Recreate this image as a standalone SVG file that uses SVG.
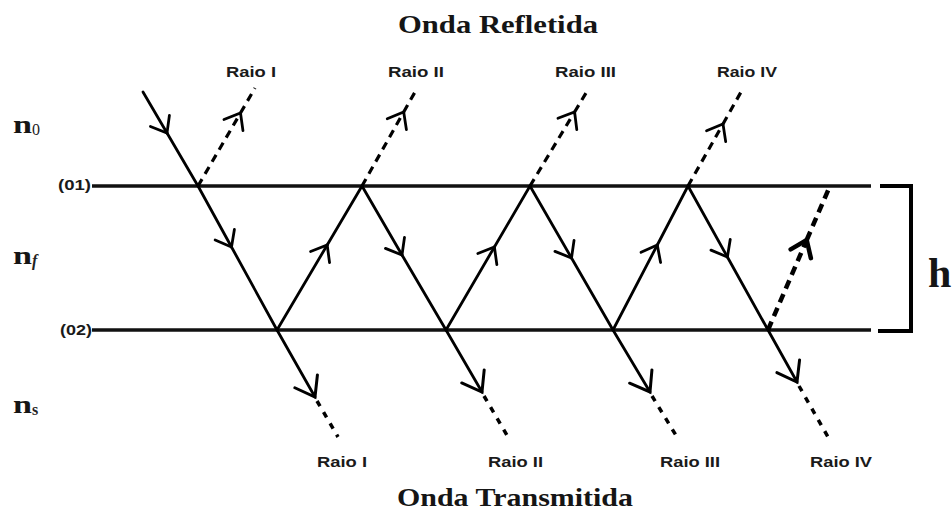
<svg xmlns="http://www.w3.org/2000/svg" width="952" height="514" viewBox="0 0 952 514">
  <style>
    .ray { fill: none; stroke: #000; stroke-width: 2.8; stroke-linecap: round; }
    .iface { fill: none; stroke: #111; stroke-width: 3.5; }
    .dash { fill: none; stroke: #000; stroke-width: 3.2; stroke-dasharray: 8 6; }
    .dot { fill: none; stroke: #000; stroke-width: 3.5; stroke-dasharray: 6 7; }
    .heavy { fill: none; stroke: #000; stroke-width: 4.5; stroke-dasharray: 9 6; }
    .title { font-family: "Liberation Serif", "Times New Roman", serif; font-weight: bold; font-size: 26px; fill: #151515; }
    .raio { font-family: "Liberation Sans", Arial, sans-serif; font-weight: bold; font-size: 15px; fill: #1a1a1a; }
    .iname { font-family: "Liberation Sans", Arial, sans-serif; font-weight: bold; font-size: 14px; fill: #1a1a1a; }
    .n { font-family: "Liberation Serif", "Times New Roman", serif; font-weight: bold; font-size: 26px; fill: #151515; }
    .sub { font-family: "Liberation Serif", "Times New Roman", serif; font-size: 16px; fill: #222; }
  </style>
  <defs>
    <marker id="ah" markerUnits="userSpaceOnUse" viewBox="-18 -16 20 32" markerWidth="20" markerHeight="32" refX="0" refY="0" orient="auto" overflow="visible">
      <path d="M-14,-11 L0,0 L-14,11" fill="none" stroke="#000" stroke-width="2.8" stroke-dasharray="none" stroke-linecap="round"/>
    </marker>
    <marker id="ahL" markerUnits="userSpaceOnUse" viewBox="-22 -18 24 36" markerWidth="24" markerHeight="36" refX="0" refY="0" orient="auto" overflow="visible">
      <path d="M-18,-13 L0,0 L-18,13" fill="none" stroke="#000" stroke-width="3" stroke-dasharray="none" stroke-linecap="round"/>
    </marker>
    <marker id="ahH" markerUnits="userSpaceOnUse" viewBox="-22 -18 24 36" markerWidth="24" markerHeight="36" refX="0" refY="0" orient="auto" overflow="visible">
      <path d="M-15,-11 L0,0 L-15,11" fill="none" stroke="#000" stroke-width="4.5" stroke-dasharray="none" stroke-linecap="round"/>
    </marker>
  </defs>
  <rect width="952" height="514" fill="#fff"/>

  <g id="titles">
    <text class="title" x="398" y="33" textLength="200" lengthAdjust="spacingAndGlyphs">Onda Refletida</text>
    <text class="title" x="397" y="506" textLength="236" lengthAdjust="spacingAndGlyphs">Onda Transmitida</text>
  </g>

  <g id="media-labels">
    <text class="n" x="13" y="133" textLength="19" lengthAdjust="spacingAndGlyphs">n</text><text class="sub" x="32" y="135">0</text>
    <text class="n" x="13" y="264" textLength="19" lengthAdjust="spacingAndGlyphs">n</text><text class="sub" x="32" y="266" font-style="italic" font-weight="bold">f</text>
    <text class="n" x="13" y="413" textLength="19" lengthAdjust="spacingAndGlyphs">n</text><text class="sub" x="32" y="415" font-weight="bold">s</text>
  </g>

  <g id="interface-01">
    <text class="iname" x="58" y="190" textLength="33" lengthAdjust="spacingAndGlyphs">(01)</text>
    <line class="iface" x1="92" y1="186" x2="871" y2="186"/>
  </g>
  <g id="interface-02">
    <text class="iname" x="60" y="335" textLength="32" lengthAdjust="spacingAndGlyphs">(02)</text>
    <line class="iface" x1="92" y1="330" x2="871" y2="330"/>
  </g>

  <g id="thickness">
    <path d="M880,186 H911 V331 H878" fill="none" stroke="#000" stroke-width="4"/>
    <text x="928" y="287" font-family="'Liberation Serif', 'Times New Roman', serif" font-weight="bold" font-size="42" fill="#151515">h</text>
  </g>

  <g id="reflected-labels">
    <text class="raio" x="226" y="77" textLength="50" lengthAdjust="spacingAndGlyphs">Raio I</text>
    <text class="raio" x="388" y="77" textLength="56" lengthAdjust="spacingAndGlyphs">Raio II</text>
    <text class="raio" x="555" y="77" textLength="61" lengthAdjust="spacingAndGlyphs">Raio III</text>
    <text class="raio" x="717" y="77" textLength="60" lengthAdjust="spacingAndGlyphs">Raio IV</text>
  </g>
  <g id="transmitted-labels">
    <text class="raio" x="317" y="467" textLength="50" lengthAdjust="spacingAndGlyphs">Raio I</text>
    <text class="raio" x="488" y="467" textLength="55" lengthAdjust="spacingAndGlyphs">Raio II</text>
    <text class="raio" x="660" y="467" textLength="60" lengthAdjust="spacingAndGlyphs">Raio III</text>
    <text class="raio" x="810" y="467" textLength="62" lengthAdjust="spacingAndGlyphs">Raio IV</text>
  </g>

  <g id="connectors">
    <g id="film-rays">
      <line class="ray" x1="143" y1="92" x2="167" y2="133" marker-end="url(#ah)"/>
      <line class="ray" x1="167" y1="133" x2="198" y2="186"/>
      <line class="ray" x1="198" y1="186" x2="231.5" y2="247" marker-end="url(#ah)"/>
      <line class="ray" x1="231.5" y1="247" x2="277" y2="330"/>
      <line class="ray" x1="277" y1="330" x2="327.2" y2="245" marker-end="url(#ah)"/>
      <line class="ray" x1="327.2" y1="245" x2="362" y2="186"/>
      <line class="ray" x1="362" y1="186" x2="402" y2="255" marker-end="url(#ah)"/>
      <line class="ray" x1="402" y1="255" x2="446" y2="330"/>
      <line class="ray" x1="446" y1="330" x2="494.4" y2="247" marker-end="url(#ah)"/>
      <line class="ray" x1="494.4" y1="247" x2="530" y2="186"/>
      <line class="ray" x1="530" y1="186" x2="571.5" y2="258" marker-end="url(#ah)"/>
      <line class="ray" x1="571.5" y1="258" x2="613" y2="330"/>
      <line class="ray" x1="613" y1="330" x2="657.3" y2="245" marker-end="url(#ah)"/>
      <line class="ray" x1="657.3" y1="245" x2="688" y2="186"/>
      <line class="ray" x1="688" y1="186" x2="727.4" y2="257" marker-end="url(#ah)"/>
      <line class="ray" x1="727.4" y1="257" x2="768" y2="330"/>
    </g>
    <g id="transmitted-rays">
      <line class="ray" x1="277" y1="330" x2="315" y2="397" marker-end="url(#ahL)"/>
      <line class="dot" x1="317" y1="401" x2="338" y2="437"/>
      <line class="ray" x1="446" y1="330" x2="482" y2="392" marker-end="url(#ahL)"/>
      <line class="dot" x1="484" y1="396" x2="508" y2="437"/>
      <line class="ray" x1="613" y1="330" x2="650" y2="392" marker-end="url(#ahL)"/>
      <line class="dot" x1="652" y1="396" x2="677" y2="437"/>
      <line class="ray" x1="768" y1="330" x2="797" y2="382" marker-end="url(#ahL)"/>
      <line class="dot" x1="799" y1="386" x2="828" y2="437"/>
    </g>
    <g id="reflected-rays">
      <line class="dash" x1="198" y1="186" x2="240.5" y2="113" marker-end="url(#ah)"/>
      <line class="dash" x1="240.5" y1="113" x2="255" y2="88"/>
      <line class="dash" x1="362" y1="186" x2="403.7" y2="112" marker-end="url(#ah)"/>
      <line class="dash" x1="403.7" y1="112" x2="415" y2="92"/>
      <line class="dash" x1="530" y1="186" x2="574.6" y2="112" marker-end="url(#ah)"/>
      <line class="dash" x1="574.6" y1="112" x2="586" y2="93"/>
      <line class="dash" x1="688" y1="186" x2="723" y2="124" marker-end="url(#ah)"/>
      <line class="dash" x1="723" y1="124" x2="741" y2="92"/>
      <line class="heavy" x1="768" y1="330" x2="806.7" y2="240" marker-end="url(#ahH)"/>
      <line class="heavy" x1="806.7" y1="240" x2="830" y2="186"/>
    </g>
  </g>
</svg>
